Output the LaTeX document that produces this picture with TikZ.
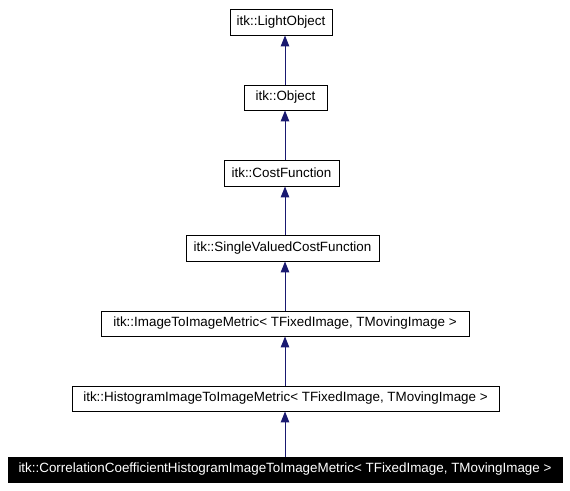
\documentclass[tikz,border=0pt]{standalone}
\usepackage{fontspec}
\setmainfont{Liberation Sans}
\usetikzlibrary{arrows.meta}
\definecolor{edgeblue}{HTML}{191970}
\tikzset{
  cls/.style={draw=black, line width=0.9pt, fill=white, inner sep=0pt, font=\fontsize{13.4}{15}\selectfont},
  cur/.style={draw=black, line width=0.9pt, fill=black, text=white, inner sep=0pt, font=\fontsize{13.4}{15}\selectfont},
  inh/.style={draw=edgeblue, line width=1pt, -{Triangle[length=11pt,width=8.5pt]}, edgeblue},
}
\begin{document}
\begin{tikzpicture}[x=1pt,y=-1pt]
\useasboundingbox (0,0) rectangle (570,490);
\node[cls, minimum width=102pt, minimum height=26pt] (n1) at (281,22) {itk::LightObject};
\node[cls, minimum width=83pt, minimum height=25pt] (n2) at (285.5,97.5) {itk::Object};
\node[cls, minimum width=115pt, minimum height=26pt] (n3) at (281.5,173) {itk::CostFunction};
\node[cls, minimum width=193pt, minimum height=26pt] (n4) at (282.5,248) {itk::SingleValuedCostFunction};
\node[cls, minimum width=368pt, minimum height=25pt] (n5) at (285,323.5) {itk::ImageToImageMetric< TFixedImage, TMovingImage >};
\node[cls, minimum width=427pt, minimum height=25pt] (n6) at (285.5,398.5) {itk::HistogramImageToImageMetric< TFixedImage, TMovingImage >};
\node[cur, minimum width=554pt, minimum height=25pt] (n7) at (285,469.5) {itk::CorrelationCoefficientHistogramImageToImageMetric< TFixedImage, TMovingImage >};
\coordinate (ax) at (285,0);
\draw[inh] (n2.north -| ax) -- (n1.south -| ax);
\draw[inh] (n3.north -| ax) -- (n2.south -| ax);
\draw[inh] (n4.north -| ax) -- (n3.south -| ax);
\draw[inh] (n5.north -| ax) -- (n4.south -| ax);
\draw[inh] (n6.north -| ax) -- (n5.south -| ax);
\draw[inh] (n7.north -| ax) -- (n6.south -| ax);
\end{tikzpicture}
\end{document}
